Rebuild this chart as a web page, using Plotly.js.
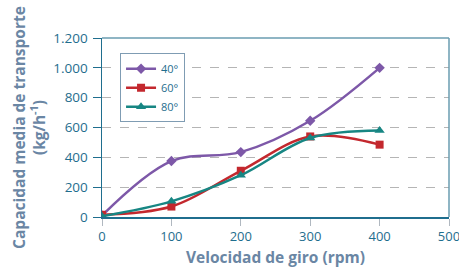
<!DOCTYPE html>
<html><head><meta charset="utf-8">
<script src="https://cdn.plot.ly/plotly-3.0.1.min.js"></script>
<style>body{margin:0;background:#fff}#c{width:459px;height:271px}</style>
</head><body><div id="c"></div>
<script>
const rpm = [0, 100, 200, 300, 400];
const cap40 = [10, 375, 435, 645, 1000];
const cap60 = [15, 70, 310, 540, 485];
const cap80 = [5, 105, 280, 530, 580];
const names = ['40°', '60°', '80°'];
const yTicks = [0, 200, 400, 600, 800, 1000, 1200];
const xTicks = [0, 100, 200, 300, 400, 500];

function tr(y, name, color, sym, size) {
  return {x: rpm, y: y, name: name, type: 'scatter', mode: 'lines+markers',
    line: {color: color, width: 2.5, shape: 'spline', smoothing: 1},
    marker: {color: color, symbol: sym, size: size}};
}
const data = [
  tr(cap40, names[0], '#7d58a8', 'diamond', 8),
  tr(cap60, names[1], '#c3282e', 'square', 8),
  tr(cap80, names[2], '#178683', 'triangle-up', 9)
];
const tickColor = '#1f6e8e';
const titleFont = {size: 15.5, color: '#6a86a4', family: 'Open Sans, sans-serif', weight: 'bold'};
const layout = {
  width: 459, height: 271,
  margin: {l: 102, r: 10, t: 38, b: 54},
  separators: ',.',
  paper_bgcolor: '#fff', plot_bgcolor: '#fff',
  font: {family: 'Open Sans, sans-serif'},
  showlegend: true,
  legend: {x: 0.052, y: 0.915, xanchor: 'left', yanchor: 'top',
    bordercolor: '#7f9cb3', borderwidth: 1, bgcolor: '#fff',
    font: {size: 11, color: tickColor}, itemwidth: 30, tracegroupgap: 0},
  xaxis: {range: [0, 500], tickvals: xTicks, ticks: 'outside', ticklen: 7, tickcolor: '#b0b8c0',
    ticklabeloverflow: 'allow',
    showgrid: false, zeroline: false, showline: true, linecolor: '#1f6e8e', linewidth: 1.5,
    mirror: false, tickfont: {size: 13, color: tickColor},
    title: {text: 'Velocidad de giro (rpm)', font: titleFont, standoff: 8}},
  yaxis: {range: [0, 1200], tickvals: yTicks, tickformat: ',d', ticks: 'outside', ticklen: 8, tickcolor: '#1f6e8e',
    showgrid: true, gridcolor: '#b5b5b5', griddash: 'dash', gridwidth: 1,
    zeroline: false, showline: true, linecolor: '#1f6e8e', linewidth: 1.5,
    tickfont: {size: 13.5, color: tickColor}, ticklabelstandoff: 2,
    title: {text: 'Capacidad media de transporte<br>(kg/h<sup>-1</sup>)', font: titleFont, standoff: 4}},
  shapes: [
    {type: 'line', xref: 'paper', yref: 'paper', x0: 0, x1: 1, y0: 1, y1: 1, line: {color: '#6a9db0', width: 1.5}},
    {type: 'line', xref: 'paper', yref: 'paper', x0: 1, x1: 1, y0: 0, y1: 1, line: {color: '#6a9db0', width: 1.5}}
  ]
};
Plotly.newPlot('c', data, layout, {displayModeBar: false, staticPlot: true});
</script></body></html>
